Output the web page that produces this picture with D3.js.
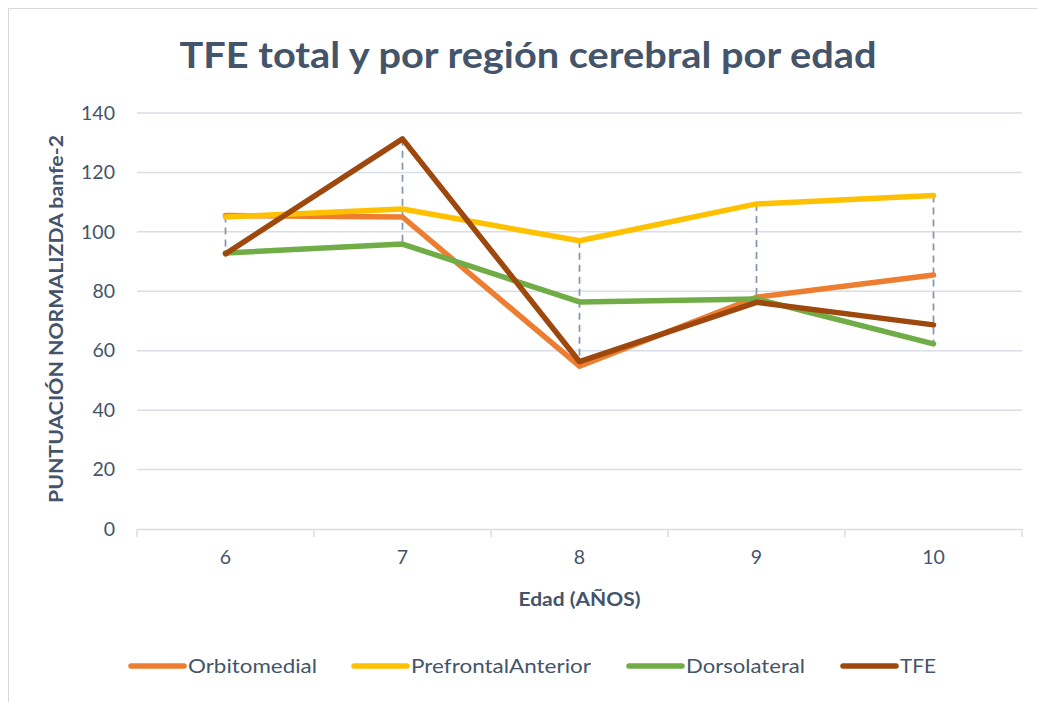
<!DOCTYPE html>
<html>
<head>
<meta charset="utf-8">
<script src="https://cdn.jsdelivr.net/npm/d3@7"></script>
<style>
  body { margin: 0; background: #fff; }
  svg { display: block; font-family: Lato, "Open Sans", sans-serif; }
</style>
</head>
<body>
<div id="chart"></div>
<script>
const ages = ["6", "7", "8", "9", "10"];
const yTicks = [0, 20, 40, 60, 80, 100, 120, 140];

const orbitomedial = [105.5, 105, 54.8, 78, 85.5];
const prefrontalAnterior = [105, 107.7, 97, 109.4, 112.2];
const dorsolateral = [92.9, 95.9, 76.4, 77.4, 62.3];
const tfe = [92.6, 131.3, 56.3, 76.3, 68.7];

const series = [
    { name: "Orbitomedial", values: orbitomedial, color: "#ED7D31" },
    { name: "PrefrontalAnterior", values: prefrontalAnterior, color: "#FFC000" },
    { name: "Dorsolateral", values: dorsolateral, color: "#70AD47" },
    { name: "TFE", values: tfe, color: "#9E480E" }
];

const width = 1037;
const height = 702;
const margin = { top: 113, right: 15, bottom: 173, left: 137 };
const textColor = "#44546A";

const svg = d3.select("#chart")
    .append("svg")
    .attr("width", width)
    .attr("height", height);

// chart area border
svg.append("rect")
    .attr("x", 8.5).attr("y", 8.5)
    .attr("width", width - 4).attr("height", height - 4)
    .attr("fill", "none")
    .attr("stroke", "#D9D9D9");

const x = d3.scaleBand()
    .domain(ages)
    .range([margin.left, width - margin.right]);

const y = d3.scaleLinear()
    .domain([0, 140])
    .range([height - margin.bottom, margin.top]);

const cx = d => x(d) + x.bandwidth() / 2;

// gridlines
svg.append("g")
    .selectAll("line")
    .data(yTicks.filter(t => t > 0))
    .join("line")
    .attr("x1", margin.left)
    .attr("x2", width - margin.right)
    .attr("y1", d => y(d))
    .attr("y2", d => y(d))
    .attr("stroke", "#D9DEE6")
    .attr("stroke-width", 1.5);

// y axis labels
const yAxis = svg.append("g")
    .attr("transform", `translate(${margin.left},0)`)
    .call(d3.axisLeft(y).tickValues(yTicks).tickSize(0).tickPadding(22));
yAxis.select(".domain").remove();
yAxis.selectAll("text")
    .attr("fill", textColor)
    .style("font-size", "19.5px")
    .style("font-family", "Lato, sans-serif");

// x axis
const xAxis = svg.append("g")
    .attr("transform", `translate(0,${y(0)})`)
    .call(d3.axisBottom(x).tickSize(0).tickPadding(21));
xAxis.select(".domain")
    .attr("stroke", "#D9DEE6")
    .attr("stroke-width", 1.5);
xAxis.selectAll("text")
    .attr("fill", textColor)
    .style("font-size", "19.5px")
    .style("font-family", "Lato, sans-serif");

// x axis boundary ticks
svg.append("g")
    .selectAll("line")
    .data(ages.concat(["end"]))
    .join("line")
    .attr("x1", (d, i) => i < ages.length ? x(d) : x.range()[1])
    .attr("x2", (d, i) => i < ages.length ? x(d) : x.range()[1])
    .attr("y1", y(0))
    .attr("y2", y(0) + 8)
    .attr("stroke", "#D9DEE6")
    .attr("stroke-width", 1.5);

// high-low drop lines
svg.append("g")
    .selectAll("line")
    .data(ages.map((a, i) => ({
        age: a,
        lo: d3.min(series, s => s.values[i]),
        hi: d3.max(series, s => s.values[i])
    })))
    .join("line")
    .attr("x1", d => cx(d.age))
    .attr("x2", d => cx(d.age))
    .attr("y1", d => y(d.hi))
    .attr("y2", d => y(d.lo))
    .attr("stroke", "#8497B0")
    .attr("stroke-width", 1.75)
    .attr("stroke-dasharray", "7,5");

// series lines
const line = d3.line()
    .x((v, i) => cx(ages[i]))
    .y(v => y(v));

svg.append("g")
    .selectAll("path")
    .data(series)
    .join("path")
    .attr("d", d => line(d.values))
    .attr("fill", "none")
    .attr("stroke", d => d.color)
    .attr("stroke-width", 5.5)
    .attr("stroke-linejoin", "round")
    .attr("stroke-linecap", "round");

// title
svg.append("text")
    .attr("x", 528)
    .attr("y", 68)
    .attr("text-anchor", "middle")
    .attr("fill", textColor)
    .style("font-size", "36px")
    .style("font-weight", "bold")
    .attr("textLength", 697)
    .attr("lengthAdjust", "spacingAndGlyphs")
    .text("TFE total y por región cerebral por edad");

// axis titles
svg.append("text")
    .attr("x", cx("8"))
    .attr("y", 606)
    .attr("text-anchor", "middle")
    .attr("fill", textColor)
    .style("font-size", "19px")
    .style("font-weight", "bold")
    .attr("textLength", 122)
    .attr("lengthAdjust", "spacingAndGlyphs")
    .text("Edad (AÑOS)");

svg.append("text")
    .attr("transform", `translate(63,319) rotate(-90)`)
    .attr("text-anchor", "middle")
    .attr("fill", textColor)
    .style("font-size", "18px")
    .style("font-weight", "bold")
    .attr("textLength", 368)
    .attr("lengthAdjust", "spacingAndGlyphs")
    .text("PUNTUACIÓN NORMALIZDA banfe-2");

// legend
const legendX = [129, 352, 627, 841];
const legendW = [129, 180, 119, 36];
const legend = svg.append("g");
series.forEach((s, i) => {
    const g = legend.append("g")
        .attr("transform", `translate(${legendX[i]},666)`);
    g.append("line")
        .attr("x1", 2).attr("x2", 55)
        .attr("stroke", s.color)
        .attr("stroke-width", 5.5)
        .attr("stroke-linecap", "round");
    g.append("text")
        .attr("x", 59)
        .attr("y", 7)
        .attr("fill", textColor)
        .style("font-size", "20px")
        .attr("textLength", legendW[i])
        .attr("lengthAdjust", "spacingAndGlyphs")
        .text(s.name);
});
</script>
</body>
</html>
